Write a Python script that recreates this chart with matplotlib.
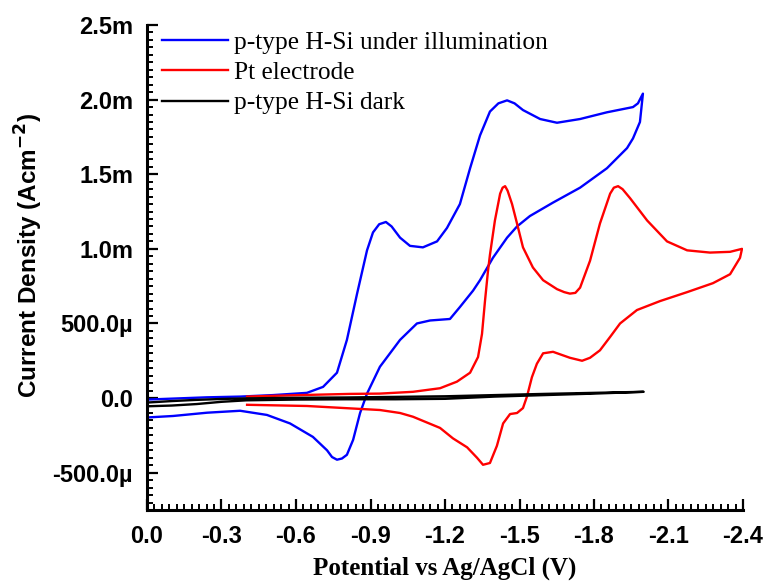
import matplotlib
matplotlib.use('Agg')
import matplotlib.pyplot as plt
from matplotlib.ticker import MultipleLocator, FuncFormatter

plt.rcParams['axes.unicode_minus'] = False

# Blue: p-type H-Si under illumination (potential in V, current in mA/cm2)
blue_x = [0.0, -0.24, -0.375, -0.507, -0.644, -0.709, -0.765, -0.805, -0.846, -0.886, -0.910, -0.935,
          -0.962, -0.985, -1.019, -1.059, -1.111, -1.168, -1.208, -1.260, -1.301, -1.341, -1.381,
          -1.415, -1.450, -1.480, -1.514, -1.583, -1.651, -1.744, -1.852, -1.957, -1.977, -1.997,
          -1.985, -1.957, -1.933, -1.852, -1.744, -1.635, -1.542, -1.490, -1.450, -1.393, -1.341,
          -1.313, -1.260, -1.220, -1.140, -1.087, -1.019, -0.938, -0.886, -0.858, -0.830, -0.805,
          -0.785, -0.765, -0.745, -0.725, -0.668, -0.576, -0.483, -0.375, -0.242, -0.105, 0.0]
blue_y = [-0.01, 0.005, 0.01, 0.02, 0.035, 0.075, 0.17, 0.39, 0.70, 0.99, 1.11, 1.165,
          1.18, 1.15, 1.075, 1.02, 1.01, 1.05, 1.14, 1.30, 1.54, 1.76, 1.92,
          1.975, 1.995, 1.975, 1.93, 1.87, 1.845, 1.87, 1.915, 1.95, 1.975, 2.04,
          1.85, 1.74, 1.675, 1.54, 1.41, 1.31, 1.22, 1.15, 1.075, 0.94, 0.79,
          0.72, 0.61, 0.53, 0.52, 0.50, 0.39, 0.21, 0.03, -0.10, -0.28, -0.38,
          -0.405, -0.413, -0.395, -0.35, -0.26, -0.17, -0.113, -0.085, -0.098, -0.12, -0.13]

# Red: Pt electrode
red_x = [-0.403, -0.616, -0.817, -0.938, -1.071, -1.180, -1.248, -1.301, -1.333, -1.349, -1.361,
         -1.373, -1.381, -1.401, -1.422, -1.432, -1.442, -1.452, -1.470, -1.490, -1.514, -1.554,
         -1.595, -1.651, -1.680, -1.703, -1.725, -1.744, -1.784, -1.824, -1.865, -1.880, -1.897,
         -1.915, -1.945, -2.014, -2.094, -2.175, -2.267, -2.348, -2.396,
         -2.388, -2.348, -2.279, -2.175, -2.066, -1.973, -1.905, -1.865, -1.824, -1.784, -1.752,
         -1.703, -1.635, -1.595, -1.570, -1.550, -1.530, -1.514, -1.490, -1.462, -1.434, -1.409,
         -1.381, -1.353, -1.329, -1.289, -1.232, -1.180, -1.071, -1.019, -0.938, -0.644, -0.403]
red_y = [0.01, 0.02, 0.028, 0.03, 0.042, 0.066, 0.11, 0.17, 0.275, 0.43, 0.65,
         0.85, 0.96, 1.19, 1.37, 1.41, 1.42, 1.39, 1.30, 1.17, 1.01, 0.875,
         0.79, 0.73, 0.71, 0.70, 0.705, 0.74, 0.92, 1.17, 1.37, 1.41, 1.42,
         1.40, 1.34, 1.19, 1.05, 0.99, 0.975, 0.98, 1.00,
         0.94, 0.83, 0.77, 0.71, 0.65, 0.59, 0.50, 0.41, 0.32, 0.27, 0.25,
         0.27, 0.31, 0.30, 0.23, 0.14, 0.01, -0.067, -0.10, -0.107, -0.17, -0.32,
         -0.435, -0.447, -0.40, -0.33, -0.27, -0.20, -0.125, -0.10, -0.08, -0.053, -0.045]

# Black: p-type H-Si dark
black_x = [0.0, -0.1, -0.2, -0.3, -0.4, -0.6, -0.8, -1.0, -1.2, -1.4, -1.6, -1.8, -2.0,
           -1.8, -1.6, -1.4, -1.2, -1.0, -0.8, -0.6, -0.4, -0.3, -0.2, -0.1, 0.0]
black_y = [-0.03, -0.02, -0.012, -0.006, -0.002, 0.002, 0.004, 0.008, 0.012, 0.02, 0.028, 0.035, 0.042,
           0.03, 0.02, 0.01, -0.005, -0.008, -0.008, -0.01, -0.015, -0.025, -0.04, -0.05, -0.055]

labels = ['p-type H-Si under illumination', 'Pt electrode', 'p-type H-Si dark']

fig = plt.figure(figsize=(7.67, 5.83), dpi=100)
ax = fig.add_axes([147/767, 1 - 510/583, 596/767, 485/583])

ax.plot(blue_x, [v * 1e-3 for v in blue_y], color='#0000ff', lw=1.7, label=labels[0])
ax.plot(red_x, [v * 1e-3 for v in red_y], color='#ff0000', lw=1.7, label=labels[1])
ax.plot(black_x, [v * 1e-3 for v in black_y], color='black', lw=1.7, label=labels[2])

ax.set_xlim(0, -2.4)
ax.set_ylim(-0.75e-3, 2.5e-3)

ax.xaxis.set_major_locator(MultipleLocator(0.3))
ax.xaxis.set_minor_locator(MultipleLocator(0.03))
ax.yaxis.set_major_locator(MultipleLocator(0.5e-3))
ax.yaxis.set_minor_locator(MultipleLocator(0.05e-3))


def yfmt(v, pos):
    if abs(v) < 1e-9:
        return '0.0'
    if abs(v) >= 1e-3 - 1e-9:
        return '%.1fm' % (v * 1e3)
    return '%.1f\u00b5' % (v * 1e6)


ax.yaxis.set_major_formatter(FuncFormatter(yfmt))
ax.xaxis.set_major_formatter(FuncFormatter(lambda v, p: '%.1f' % v if abs(v) > 1e-9 else '0.0'))

for s in ['top', 'right']:
    ax.spines[s].set_visible(False)
for s in ['left', 'bottom']:
    ax.spines[s].set_linewidth(2.2)

ax.tick_params(which='major', direction='in', length=8, width=1.6)
ax.tick_params(axis='y', which='major', pad=10)
ax.tick_params(axis='x', which='major', pad=11)
ax.tick_params(which='minor', direction='in', length=4, width=1.4)
for lab in ax.get_xticklabels() + ax.get_yticklabels():
    lab.set_fontfamily('Liberation Sans')
    lab.set_fontweight('bold')
    lab.set_fontsize(17)

ax.set_xlabel('Potential vs Ag/AgCl (V)', fontfamily='Liberation Serif', fontweight='bold',
              fontsize=18, labelpad=6)
fig.text(29/767, 1 - 255/583, 'Current Density (Acm$^{\\mathbf{-2}}$)', rotation=90,
         ha='center', va='center', fontfamily='Liberation Sans', fontweight='bold', fontsize=17.5)

ax.legend(loc='upper left', bbox_to_anchor=(15/596, 0.988), frameon=False, borderpad=0,
          borderaxespad=0, handlelength=2.6, handletextpad=0.22, labelspacing=0.3,
          prop={'family': 'Liberation Serif', 'size': 18.3})

fig.savefig('out.png', dpi=100)
